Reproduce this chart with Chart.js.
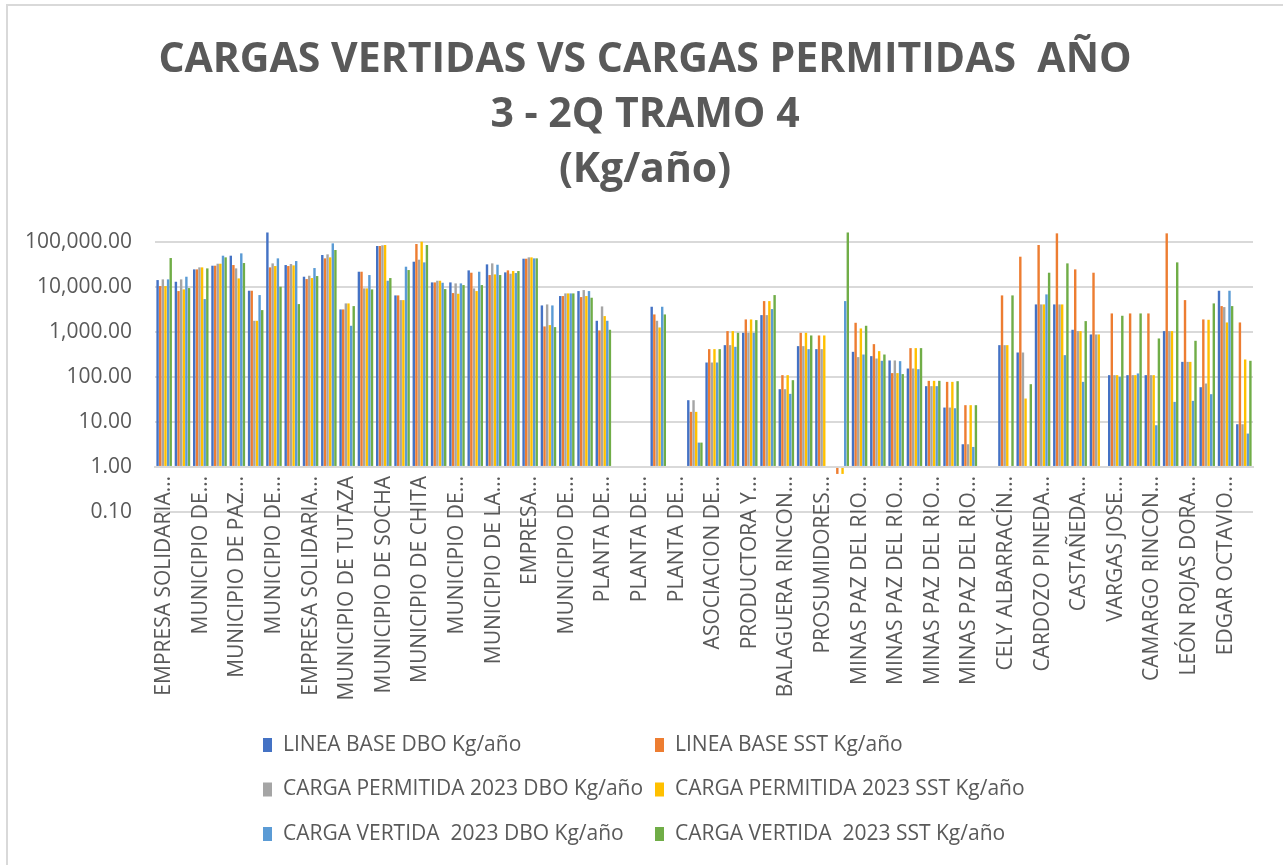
<!DOCTYPE html>
<html>
<head>
<meta charset="utf-8">
<script src="https://cdn.jsdelivr.net/npm/chart.js@4.4.0/dist/chart.umd.min.js"></script>
<style>
  body { margin: 0; background: #fff; }
  #wrap { position: relative; width: 1283px; height: 865px; overflow: hidden; }
  #frame { position: absolute; left: 6px; top: 4px; width: 1290px; height: 900px; border: 2px solid #d9d9d9; box-sizing: border-box; }
  canvas { position: absolute; left: 0; top: 0; }
</style>
</head>
<body>
<div id="wrap">
  <div id="frame"></div>
  <canvas id="myChart" width="1283" height="865"></canvas>
</div>
<script>
// categorias (solo se leen las etiquetas pares en la imagen)
var categorias = [
  'EMPRESA SOLIDARIA…', '', 'MUNICIPIO DE…', '', 'MUNICIPIO DE PAZ…', '',
  'MUNICIPIO DE…', '', 'EMPRESA SOLIDARIA…', '', 'MUNICIPIO DE TUTAZA', '',
  'MUNICIPIO DE SOCHA', '', 'MUNICIPIO DE CHITA', '', 'MUNICIPIO DE…', '',
  'MUNICIPIO DE LA…', '', 'EMPRESA…', '', 'MUNICIPIO DE…', '',
  'PLANTA DE…', '', 'PLANTA DE…', '', 'PLANTA DE…', '',
  'ASOCIACION DE…', '', 'PRODUCTORA Y…', '', 'BALAGUERA RINCON…', '',
  'PROSUMIDORES…', '', 'MINAS PAZ DEL RIO…', '', 'MINAS PAZ DEL RIO…', '',
  'MINAS PAZ DEL RIO…', '', 'MINAS PAZ DEL RIO…', '', 'CELY ALBARRACÍN…', '',
  'CARDOZO PINEDA…', '', 'CASTAÑEDA…', '', 'VARGAS JOSE…', '',
  'CAMARGO RINCON…', '', 'LEÓN ROJAS DORA…', '', 'EDGAR OCTAVIO…', ''
];

var lineaBaseDBO = [
  14060, 12900, 24270, 29300, 48860, 8150, 160000, 30300, 16680, 50580,
  3135, 21540, 80140, 6420, 35930, 12480, 12480, 23070, 31350, 20830,
  41880, 3846, 6210, 8010, 1755, null, null, 3594, null, 30.3,
  208, 505, 950, 2345, 53.2, 480, 412, null, 359, 288,
  231, 153, 62.1, 20.8, 3.19, null, 505, 347, 4050, 4050,
  1108, 873, 109, 109, 109, 1035, 215, 58.9, 8150, 8.87
];
var lineaBaseSST = [
  10350, 8010, 24270, 29300, 30300, 8150, 26900, 28780, 14790, 42640,
  3135, 21540, 80140, 6420, 88720, 12480, 7230, 20470, 18170, 23070,
  41880, 1314, 6210, 5890, 1071, null, null, 2427, null, 16.7,
  412, 1035, 1880, 4800, 109, 950, 829, 0.7, 1585, 532,
  121, 434, 81.5, 77.4, 23.5, null, 6420, 46420, 84350, 153000,
  24270, 20470, 2555, 2555, 2555, 153000, 5050, 1880, 3717, 1611
];
var permitidaDBO = [
  14550, 14550, 26900, 32450, 25550, 1755, 33000, 31900, 17550, 52350,
  4265, 9180, 82960, 5050, 39810, 13590, 11860, 9180, 33000, 19450,
  44870, 4050, 7110, 8430, 3656, null, null, 1755, null, 30.3,
  208, 505, 950, 2345, 53.2, 480, 412, null, 274, 255,
  231, 153, 62.1, 20.8, 3.19, null, 505, 347, 4050, 4050,
  1035, 873, 109, 109, 109, 1035, 215, 71.1, 3533, 8.87
];
var permitidaSST = [
  10350, 8730, 26900, 32450, 15310, 1755, 28780, 29800, 15580, 44870,
  4265, 9180, 84350, 5050, 100000, 13590, 6990, 8010, 18790, 22300,
  44870, 1407, 7110, 6210, 2230, null, null, 1248, null, 16.7,
  412, 1035, 1880, 4800, 109, 950, 829, 0.7, 1186, 372,
  121, 434, 81.5, 77.4, 23.5, null, 505, 33.0, 4050, 4050,
  1035, 873, 109, 109, 109, 1035, 215, 1848, 1611, 243
];
var vertidaDBO = [
  14550, 16680, 5320, 48860, 55060, 6530, 42640, 37170, 26000, 91800,
  1360, 18170, 13590, 27830, 34730, 12270, 11860, 21540, 30830, 20130,
  42640, 3846, 7110, 8010, 1755, null, null, 3594, null, 3.47,
  208, 464, 950, 3190, 41.9, 412, null, 4800, 313, 227,
  223, 148, 62.1, 20.1, 2.78, null, null, null, 6760, 303,
  77.4, null, 100, 119, 8.43, 27.8, 29.3, 41.2, 8150, 5.51
];
var vertidaSST = [
  43350, 9340, 25550, 44870, 33570, 3030, 10000, 4120, 17260, 65310,
  3717, 8730, 15580, 23460, 84350, 8880, 10890, 10890, 18170, 22300,
  42640, 1270, 7110, 5700, 1108, null, null, 2427, null, 3.47,
  412, 950, 1816, 6530, 84.3, 829, null, 160000, 1360, 313,
  115, 434, 81.5, 80.1, 23.5, null, 6420, 68.7, 20470, 33000,
  1726, null, 2268, 2555, 711, 34730, 631, 4265, 3717, 227
];

var series = [
  { label: 'LINEA BASE DBO Kg/año', data: lineaBaseDBO, color: '#4472C4' },
  { label: 'LINEA BASE SST Kg/año', data: lineaBaseSST, color: '#ED7D31' },
  { label: 'CARGA PERMITIDA 2023 DBO Kg/año', data: permitidaDBO, color: '#A5A5A5' },
  { label: 'CARGA PERMITIDA 2023 SST Kg/año', data: permitidaSST, color: '#FFC000' },
  { label: 'CARGA VERTIDA  2023 DBO Kg/año', data: vertidaDBO, color: '#5B9BD5' },
  { label: 'CARGA VERTIDA  2023 SST Kg/año', data: vertidaSST, color: '#70AD47' }
];

var yTicks = [0.1, 1, 10, 100, 1000, 10000, 100000];
var titulo = ['CARGAS VERTIDAS VS CARGAS PERMITIDAS  AÑO', '3 - 2Q TRAMO 4', '(Kg/año)'];

var fuente = '"Open Sans", "Noto Sans", sans-serif';
var gris = '#595959';

// titulo centrado como en Excel + leyenda en dos columnas
var tituloYLeyenda = {
  id: 'tituloYLeyenda',
  afterDraw: function(chart) {
    var ctx = chart.ctx;
    ctx.save();
    ctx.textBaseline = 'middle';
    ctx.textAlign = 'center';
    ctx.fillStyle = gris;
    ctx.font = 'bold 41px ' + fuente;
    titulo.forEach(function(t, i) {
      ctx.fillText(t, 645, 60 + i * 55);
    });

    ctx.textAlign = 'left';
    ctx.font = '21px ' + fuente;
    chart.data.datasets.forEach(function(ds, i) {
      var x = (i % 2 == 0) ? 263 : 655;
      var y = 745 + Math.floor(i / 2) * 44.5;
      ctx.fillStyle = ds.backgroundColor;
      ctx.fillRect(x, y - 7, 9, 14);
      ctx.fillStyle = gris;
      ctx.fillText(ds.label, x + 20, y);
    });
    ctx.restore();
  }
};

var ctx = document.getElementById('myChart').getContext('2d');
var myChart = new Chart(ctx, {
  type: 'bar',
  data: {
    labels: categorias,
    datasets: series.map(function(s) {
      return {
        label: s.label,
        data: s.data,
        backgroundColor: s.color,
        base: 1,
        barPercentage: 0.92,
        categoryPercentage: 0.86
      };
    })
  },
  options: {
    responsive: false,
    animation: false,
    layout: { padding: { left: 0, right: 30, top: 232, bottom: 353 } },
    plugins: {
      legend: { display: false },
      tooltip: { enabled: false },
      title: { display: false }
    },
    scales: {
      x: {
        position: { y: 1 },
        grid: { display: false },
        border: { display: true, color: '#d9d9d9', width: 2 },
        ticks: {
          autoSkip: false,
          minRotation: 90,
          maxRotation: 90,
          padding: 1,
          color: gris,
          font: { family: fuente, size: 21 }
        }
      },
      y: {
        type: 'logarithmic',
        min: 0.1,
        max: 164000,
        afterBuildTicks: function(scale) {
          scale.ticks = yTicks.map(function(v) { return { value: v }; });
        },
        afterFit: function(scale) { scale.width = 155; },
        grid: { color: '#d9d9d9', lineWidth: 2, drawTicks: false },
        border: { display: false },
        ticks: {
          padding: 23,
          color: gris,
          font: { family: fuente, size: 21 },
          callback: function(v) {
            return Number(v).toLocaleString('en-US', { minimumFractionDigits: 2, maximumFractionDigits: 2 });
          }
        }
      }
    }
  },
  plugins: [tituloYLeyenda]
});
</script>
</body>
</html>
